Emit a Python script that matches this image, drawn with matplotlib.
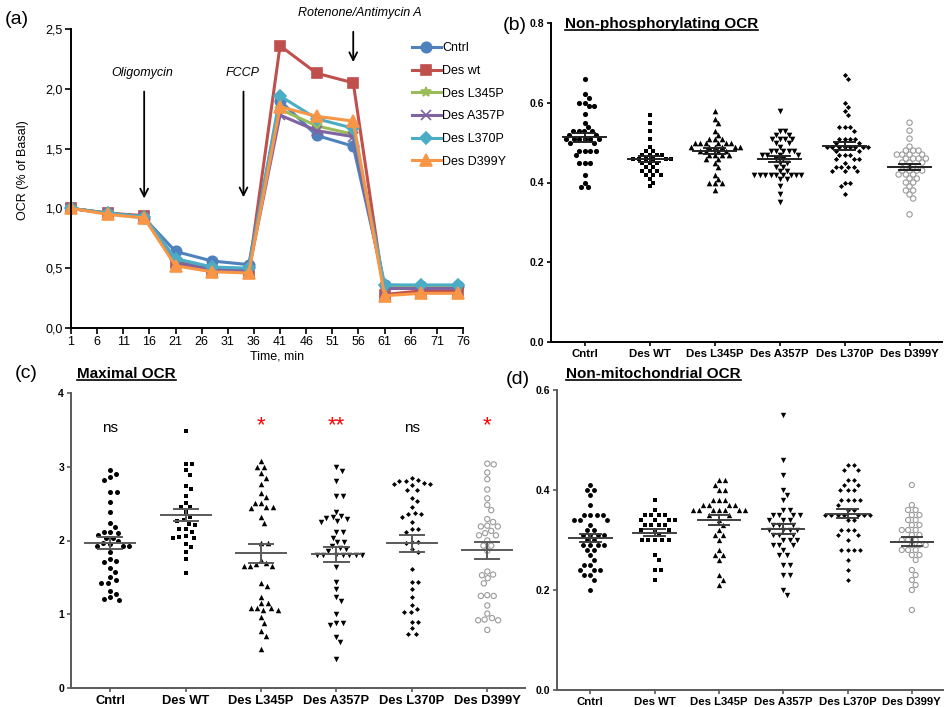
import numpy as np
import matplotlib
matplotlib.use("Agg")
import matplotlib.pyplot as plt
from matplotlib.lines import Line2D
from matplotlib.ticker import FuncFormatter

plt.rcParams['font.family'] = ['Liberation Sans', 'DejaVu Sans']

# ---- (a) time course, OCR relative to basal ----
time_min = [1, 8, 15, 21, 28, 35, 41, 48, 55, 61, 68, 75]
ocr_cntrl = [1.0, 0.96, 0.92, 0.64, 0.56, 0.53, 1.90, 1.61, 1.52, 0.36, 0.35, 0.35]
ocr_wt = [1.0, 0.96, 0.94, 0.54, 0.48, 0.47, 2.36, 2.13, 2.05, 0.28, 0.31, 0.31]
ocr_l345p = [1.0, 0.96, 0.93, 0.56, 0.50, 0.49, 1.83, 1.69, 1.62, 0.34, 0.35, 0.35]
ocr_a357p = [1.0, 0.96, 0.93, 0.55, 0.49, 0.48, 1.78, 1.65, 1.60, 0.33, 0.33, 0.33]
ocr_l370p = [1.0, 0.96, 0.93, 0.58, 0.51, 0.50, 1.94, 1.75, 1.67, 0.36, 0.36, 0.36]
ocr_d399y = [1.0, 0.95, 0.92, 0.52, 0.47, 0.46, 1.85, 1.77, 1.73, 0.27, 0.29, 0.29]
line_names = ["Cntrl", "Des wt", "Des L345P", "Des A357P", "Des L370P", "Des D399Y"]

groups = ["Cntrl", "Des WT", "Des L345P", "Des A357P", "Des L370P", "Des D399Y"]

# ---- (b) non-phosphorylating OCR ----
np_cntrl = [0.66, 0.621, 0.613, 0.60, 0.60, 0.591, 0.591, 0.571, 0.55, 0.539,
            0.529, 0.529, 0.529, 0.529, 0.52, 0.52, 0.51, 0.51, 0.51, 0.51, 0.51, 0.51,
            0.50, 0.50, 0.48, 0.48, 0.48, 0.48, 0.469, 0.449, 0.449, 0.449, 0.418,
            0.399, 0.389, 0.389]
np_wt = [0.57, 0.55, 0.53, 0.51, 0.49, 0.48, 0.48, 0.47, 0.47, 0.47, 0.47,
         0.46, 0.46, 0.46, 0.46, 0.46, 0.46, 0.45, 0.45, 0.45, 0.44, 0.44,
         0.43, 0.43, 0.43, 0.42, 0.42, 0.42, 0.41, 0.40, 0.39]
np_l345p = [0.58, 0.56, 0.55, 0.53, 0.52, 0.51, 0.51, 0.51, 0.50, 0.50, 0.50, 0.50,
            0.50, 0.50, 0.49, 0.49, 0.49, 0.49, 0.49, 0.49, 0.48, 0.48, 0.48, 0.48,
            0.47, 0.47, 0.47, 0.47, 0.46, 0.46, 0.45, 0.44, 0.42, 0.41, 0.40, 0.40,
            0.40, 0.38]
np_a357p = [0.58, 0.53, 0.53, 0.52, 0.52, 0.51, 0.51, 0.51, 0.51, 0.50, 0.50, 0.49,
            0.48, 0.48, 0.48, 0.48, 0.48, 0.47, 0.47, 0.47, 0.47, 0.46, 0.46, 0.45,
            0.45, 0.44, 0.44, 0.43, 0.43, 0.42, 0.42, 0.42, 0.42, 0.42, 0.42, 0.42,
            0.42, 0.42, 0.41, 0.41, 0.39, 0.37, 0.35]
np_l370p = [0.67, 0.66, 0.60, 0.59, 0.58, 0.57, 0.54, 0.54, 0.54, 0.53, 0.51, 0.51,
            0.51, 0.51, 0.50, 0.50, 0.49, 0.49, 0.49, 0.49, 0.49, 0.49, 0.49, 0.49,
            0.48, 0.48, 0.47, 0.47, 0.47, 0.46, 0.46, 0.46, 0.45, 0.44, 0.44, 0.44,
            0.44, 0.43, 0.43, 0.43, 0.40, 0.40, 0.39, 0.37]
np_d399y = [0.55, 0.53, 0.51, 0.49, 0.48, 0.48, 0.48, 0.47, 0.47, 0.47, 0.47,
            0.46, 0.46, 0.46, 0.46, 0.45, 0.45, 0.45, 0.44, 0.44, 0.43, 0.43, 0.43,
            0.43, 0.42, 0.42, 0.42, 0.41, 0.41, 0.40, 0.40, 0.39, 0.38, 0.38, 0.37,
            0.36, 0.32]

# ---- (c) maximal OCR ----
max_cntrl = [2.95, 2.90, 2.86, 2.82, 2.66, 2.66, 2.52, 2.38, 2.24, 2.18, 2.12, 2.12,
             2.10, 2.07, 2.04, 2.04, 1.99, 1.97, 1.95, 1.93, 1.93, 1.92, 1.85, 1.75,
             1.72, 1.71, 1.63, 1.57, 1.50, 1.46, 1.42, 1.42, 1.32, 1.28, 1.23, 1.21, 1.20]
max_wt = [3.48, 3.04, 3.04, 2.95, 2.89, 2.74, 2.70, 2.60, 2.51, 2.45, 2.45, 2.39,
          2.32, 2.28, 2.26, 2.23, 2.21, 2.15, 2.15, 2.12, 2.06, 2.05, 2.04, 2.04,
          1.95, 1.91, 1.85, 1.75, 1.56]
max_l345p = [3.08, 3.00, 3.00, 2.91, 2.85, 2.76, 2.64, 2.59, 2.51, 2.51, 2.46, 2.46,
             2.44, 2.32, 2.24, 1.96, 1.96, 1.74, 1.69, 1.68, 1.65, 1.65, 1.65, 1.42,
             1.38, 1.24, 1.15, 1.15, 1.08, 1.08, 1.08, 1.06, 1.06, 0.97, 0.89, 0.77,
             0.71, 0.53]
max_a357p = [2.99, 2.94, 2.80, 2.60, 2.60, 2.39, 2.33, 2.32, 2.30, 2.29, 2.26, 2.25,
             2.11, 2.11, 2.04, 1.98, 1.98, 1.93, 1.90, 1.88, 1.86, 1.80, 1.80, 1.80,
             1.80, 1.80, 1.80, 1.80, 1.64, 1.44, 1.34, 1.24, 1.18, 1.01, 0.89, 0.88,
             0.86, 0.70, 0.63, 0.39]
max_l370p = [2.84, 2.82, 2.81, 2.81, 2.78, 2.77, 2.76, 2.75, 2.69, 2.69, 2.58, 2.53,
             2.45, 2.37, 2.36, 2.36, 2.32, 2.25, 2.16, 2.16, 2.12, 1.98, 1.98, 1.96,
             1.88, 1.84, 1.61, 1.44, 1.44, 1.34, 1.23, 1.13, 1.07, 1.03, 1.03, 0.90,
             0.90, 0.81, 0.74, 0.74]
max_d399y = [3.04, 3.03, 2.92, 2.83, 2.69, 2.57, 2.48, 2.41, 2.29, 2.25, 2.20, 2.19,
             2.19, 2.13, 2.10, 2.07, 2.07, 2.00, 1.93, 1.93, 1.86, 1.58, 1.54, 1.53,
             1.49, 1.42, 1.26, 1.25, 1.25, 1.12, 1.01, 0.95, 0.93, 0.92, 0.92, 0.79]
max_signif = ["ns", "", "*", "**", "ns", "*"]

# ---- (d) non-mitochondrial OCR ----
nm_cntrl = [0.41, 0.40, 0.40, 0.39, 0.37, 0.35, 0.35, 0.35, 0.35, 0.34, 0.34, 0.34,
            0.33, 0.32, 0.32, 0.31, 0.31, 0.31, 0.31, 0.30, 0.30, 0.29, 0.29, 0.29,
            0.29, 0.28, 0.28, 0.27, 0.26, 0.25, 0.25, 0.24, 0.24, 0.24, 0.23, 0.23,
            0.22, 0.20]
nm_wt = [0.38, 0.36, 0.35, 0.35, 0.35, 0.35, 0.34, 0.34, 0.34, 0.34, 0.33, 0.33,
         0.33, 0.33, 0.32, 0.32, 0.32, 0.31, 0.30, 0.30, 0.30, 0.30, 0.30, 0.27,
         0.26, 0.24, 0.24, 0.22]
nm_l345p = [0.42, 0.42, 0.41, 0.40, 0.40, 0.38, 0.38, 0.38, 0.37, 0.37, 0.37, 0.37,
            0.36, 0.36, 0.36, 0.36, 0.36, 0.36, 0.36, 0.35, 0.35, 0.34, 0.33, 0.32,
            0.31, 0.31, 0.30, 0.28, 0.27, 0.27, 0.26, 0.23, 0.22, 0.21]
nm_a357p = [0.55, 0.46, 0.43, 0.40, 0.39, 0.38, 0.36, 0.36, 0.35, 0.35, 0.35, 0.35,
            0.34, 0.34, 0.34, 0.33, 0.33, 0.33, 0.32, 0.32, 0.32, 0.32, 0.31, 0.31,
            0.31, 0.30, 0.30, 0.30, 0.29, 0.29, 0.29, 0.28, 0.27, 0.27, 0.25, 0.25,
            0.23, 0.23, 0.20, 0.19]
nm_l370p = [0.45, 0.45, 0.44, 0.44, 0.42, 0.42, 0.41, 0.41, 0.40, 0.40, 0.40, 0.38,
            0.38, 0.38, 0.38, 0.37, 0.36, 0.36, 0.35, 0.35, 0.35, 0.35, 0.35, 0.35,
            0.35, 0.34, 0.34, 0.32, 0.32, 0.32, 0.31, 0.31, 0.30, 0.28, 0.28, 0.28,
            0.28, 0.26, 0.24, 0.22]
nm_d399y = [0.41, 0.37, 0.36, 0.36, 0.35, 0.35, 0.34, 0.34, 0.33, 0.33, 0.32, 0.32,
            0.32, 0.31, 0.31, 0.30, 0.30, 0.30, 0.29, 0.29, 0.29, 0.28, 0.28, 0.28,
            0.27, 0.27, 0.26, 0.24, 0.23, 0.22, 0.21, 0.20, 0.16]

line_colors = ["#4F81BD", "#C0504D", "#9BBB59", "#8064A2", "#4BACC6", "#F79646"]
line_markers = ["o", "s", "*", "x", "D", "^"]
line_msize = [7.5, 7.5, 7.5, 6.5, 6.5, 8]

dot_markers = ["o", "s", "^", "v", "D", "o"]
dot_sizes = [1.0, 0.9, 1.1, 1.1, 0.7, 1.05]


def swarm(vals, d_px, y_scale):
    # simple beeswarm, offsets in pixels
    y = np.asarray(vals, dtype=float) * y_scale
    xs = np.zeros(len(y))
    px, py = [], []
    for i in np.argsort(-y, kind="stable"):
        cands = [0.0]
        for a, b in zip(px, py):
            dy = y[i] - b
            if abs(dy) < d_px:
                dx = np.sqrt(d_px ** 2 - dy ** 2)
                cands += [a + dx, a - dx]
        cands = sorted(cands, key=lambda c: (round(abs(c), 6), -c))
        for c in cands:
            if all((c - a) ** 2 + (y[i] - b) ** 2 >= d_px ** 2 - 1e-6 for a, b in zip(px, py)):
                break
        xs[i] = c
        px.append(c)
        py.append(y[i])
    return xs


def dot_panel(ax, data, y_px_per_unit, x_px_per_cat, d_px, msize, line_col, spine_col,
              ylim, yticks, ylab_fmt, xfs, yfs):
    for k, vals in enumerate(data):
        off = swarm(vals, d_px, y_px_per_unit) / x_px_per_cat
        x = k + off
        s = (msize * dot_sizes[k]) ** 2
        if k == 5:
            ax.scatter(x, vals, s=s, marker="o", facecolors="none", edgecolors="#9a9a9a",
                       linewidths=0.8, zorder=3)
        else:
            ax.scatter(x, vals, s=s, marker=dot_markers[k], color="black", linewidths=0,
                       zorder=3)
        m = np.mean(vals)
        se = np.std(vals, ddof=1) / np.sqrt(len(vals))
        ax.plot([k - 0.33, k + 0.33], [m, m], color=line_col, lw=1.4, zorder=4)
        ax.plot([k - 0.16, k + 0.16], [m + se, m + se], color=line_col, lw=1.4, zorder=4)
        ax.plot([k - 0.16, k + 0.16], [m - se, m - se], color=line_col, lw=1.4, zorder=4)
        ax.plot([k, k], [m - se, m + se], color=line_col, lw=1.4, zorder=4)
    ax.set_xlim(-0.52, 5.5)
    ax.set_ylim(*ylim)
    ax.set_yticks(yticks)
    ax.set_yticklabels([ylab_fmt(v) for v in yticks], fontsize=yfs, fontweight="bold")
    ax.set_xticks(range(6))
    ax.set_xticklabels(groups, fontsize=xfs, fontweight="bold")
    for sp in ["top", "right"]:
        ax.spines[sp].set_visible(False)
    for sp in ["left", "bottom"]:
        ax.spines[sp].set_color(spine_col)
        ax.spines[sp].set_linewidth(1.4)
    ax.tick_params(axis="both", colors=spine_col, length=3, width=1.2, pad=2)
    ax.tick_params(axis="both", labelcolor="black")


W, H = 945, 707
fig = plt.figure(figsize=(W / 100, H / 100), dpi=100)


def box(l, r, t, b):
    return [l / W, 1 - b / H, (r - l) / W, (b - t) / H]


# ---- panel (a) ----
axa = fig.add_axes(box(71, 463, 29, 328))
series = [ocr_cntrl, ocr_wt, ocr_l345p, ocr_a357p, ocr_l370p, ocr_d399y]
for k, ys in enumerate(series):
    axa.plot(time_min, ys, color=line_colors[k], lw=2.2, marker=line_markers[k],
             markersize=line_msize[k], markeredgecolor=line_colors[k],
             markeredgewidth=1.2, label=line_names[k], clip_on=False)
axa.set_xlim(1, 76)
axa.set_ylim(0, 2.5)
axa.set_xticks(np.arange(1, 77, 5))
axa.set_yticks(np.arange(0, 2.51, 0.5))
axa.yaxis.set_major_formatter(FuncFormatter(lambda v, p: ("%.1f" % v).replace(".", ",")))
axa.tick_params(labelsize=9, length=4, width=1.2, direction="out", pad=2)
for sp in ["top", "right"]:
    axa.spines[sp].set_visible(False)
for sp in ["left", "bottom"]:
    axa.spines[sp].set_linewidth(1.4)
axa.set_xlabel("Time, min", fontsize=9)
axa.xaxis.set_label_coords(0.526, -0.075)
axa.set_ylabel("OCR (% of Basal)", fontsize=9)
axa.yaxis.set_label_coords(-0.108, 0.528)
axa.legend(loc="upper left", bbox_to_anchor=(0.87, 0.955), frameon=False, fontsize=9,
           handlelength=2.3, handletextpad=0.1, labelspacing=0.85, borderpad=0,
           borderaxespad=0)

arrow = dict(arrowstyle="->", color="black", lw=1.3, mutation_scale=14)
axa.annotate("", xy=(15, 1.06), xytext=(15, 2.0), arrowprops=arrow, annotation_clip=False)
axa.annotate("", xy=(34, 1.07), xytext=(34, 2.0), arrowprops=arrow, annotation_clip=False)
axa.annotate("", xy=(55, 2.2), xytext=(55, 2.5), arrowprops=arrow, annotation_clip=False)
axa.text(14.6, 2.13, "Oligomycin", style="italic", fontsize=9, ha="center", va="center")
axa.text(33.9, 2.13, "FCCP", style="italic", fontsize=9, ha="center", va="center")
axa.text(56.3, 2.63, "Rotenone/Antimycin A", style="italic", fontsize=9, ha="center",
         va="center", clip_on=False)

# ---- panel (b) ----
axb = fig.add_axes(box(551, 942, 23, 342))
dot_panel(axb, [np_cntrl, np_wt, np_l345p, np_a357p, np_l370p, np_d399y],
          399, 65, 5.4, 3.7, "#222222", "black", (0, 0.8), [0, 0.2, 0.4, 0.6, 0.8],
          lambda v: "%.1f" % v, 8.2, 7.5)

# ---- panel (c) ----
axc = fig.add_axes(box(71, 525, 392.7, 688.3))
dot_panel(axc, [max_cntrl, max_wt, max_l345p, max_a357p, max_l370p, max_d399y],
          73.9, 75.7, 6.5, 3.6, "#5a5a5a", "#5a5a5a", (0, 4), [0, 1, 2, 3, 4],
          lambda v: "%d" % v, 9.3, 7.5)
for k, lab in enumerate(max_signif):
    if lab == "ns":
        axc.text(k, 3.52, lab, fontsize=11, ha="center", va="center", color="black")
    elif lab:
        axc.text(k, 3.56, lab, fontsize=16, ha="center", va="center", color="red")

# ---- panel (d) ----
axd = fig.add_axes(box(557, 944, 390, 690))
dot_panel(axd, [nm_cntrl, nm_wt, nm_l345p, nm_a357p, nm_l370p, nm_d399y],
          500, 64.8, 6.3, 3.5, "#404040", "#5a5a5a", (0, 0.6), [0, 0.2, 0.4, 0.6],
          lambda v: "%.1f" % v, 8.2, 7.5)

# ---- panel labels and titles ----
for lab, x, y in [("(a)", 5, 20), ("(b)", 503, 25), ("(c)", 15, 374), ("(d)", 506, 380)]:
    fig.text(x / W, 1 - y / H, lab, fontsize=14, ha="left", va="center")

titles = []
for txt, x, y in [("Non-phosphorylating OCR", 565, 24), ("Maximal OCR", 77, 374),
                  ("Non-mitochondrial OCR", 566, 374)]:
    titles.append(fig.text(x / W, 1 - y / H, txt, fontsize=11, fontweight="bold",
                           ha="left", va="center"))

fig.canvas.draw()
rend = fig.canvas.get_renderer()
for t in titles:
    bb = t.get_window_extent(rend)
    yl = (bb.y0 + 1) / H
    fig.add_artist(Line2D([bb.x0 / W, bb.x1 / W], [yl, yl], color="black", lw=1.2))

fig.savefig("out.png", dpi=100)
